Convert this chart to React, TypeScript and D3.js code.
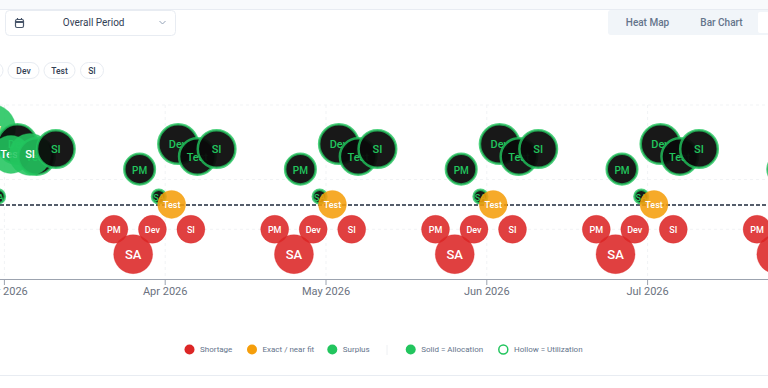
import React from "react";
import * as d3 from "d3";

const months = ["Mar 2026", "Apr 2026", "May 2026", "Jun 2026", "Jul 2026", "Aug 2026"];
const roles = ["PM", "SA", "Dev", "Test", "SI"];
const chips = ["Dev", "Test", "SI"];
const chipCentres = [23.5, 59.5, 92];
const chipWidths = [31, 31, 23];
const gridValues = [4, 1, -1];
// Gap per month, one entry per role (PM, SA, Dev, Test, SI)
const allocationGap = [
  [2.4, 3.3, 3.06, 2.01, 2.01],
  [-1, -2, -1, 0, -1],
  [-1, -2, -1, 0, -1],
  [-1, -2, -1, 0, -1],
  [-1, -2, -1, 0, -1],
  [-1, -2, -1, 0, -1],
];
const utilizationGap = [
  [1.42, 0.32, 2.43, 1.93, 2.23],
  [1.42, 0.32, 2.43, 1.93, 2.23],
  [1.42, 0.32, 2.43, 1.93, 2.23],
  [1.42, 0.32, 2.43, 1.93, 2.23],
  [1.42, 0.32, 2.43, 1.93, 2.23],
  [1.42, 0.32, 2.43, 1.93, 2.23],
];
const allocationSize = [
  [4, 5.5, 6.06, 3.8, 4.64],
  [2.06, 4, 2.06, 2.06, 2.06],
  [2.06, 4, 2.06, 2.06, 2.06],
  [2.06, 4, 2.06, 2.06, 2.06],
  [2.06, 4, 2.06, 2.06, 2.06],
  [2.06, 4, 2.06, 2.06, 2.06],
];
const utilizationSize = [
  [2.46, 0.49, 4.12, 3.52, 3.72],
  [2.46, 0.49, 4.12, 3.52, 3.72],
  [2.46, 0.49, 4.12, 3.52, 3.72],
  [2.46, 0.49, 4.12, 3.52, 3.72],
  [2.46, 0.49, 4.12, 3.52, 3.72],
  [2.46, 0.49, 4.12, 3.52, 3.72],
];
const legendLeft = [
  { label: "Shortage", color: "#dc2626", x: 189.5 },
  { label: "Exact / near fit", color: "#f59e0b", x: 252 },
  { label: "Surplus", color: "#22c55e", x: 332.3 },
];

const FONT = "Roboto, sans-serif";
const x = d3.scalePoint<string>().domain(months).range([4.4, 808.4]);
const y = d3.scaleLinear().domain([-3, 4]).range([279, 105]);
const rr = d3.scaleSqrt().domain([0, 4]).range([0, 19.5]);
const offset = d3.scalePoint<string>().domain(roles).range([-51.3, 25.7]);
const HOLLOW_SHIFT = 25.7;

const fillFor = (g: number) => (g < 0 ? "#dc2626" : g === 0 ? "#f59e0b" : "#22c55e");

export default function App() {
  return (
    <svg width={768} height={388} viewBox="0 0 768 388" style={{ position: "fixed", left: 0, top: 0, background: "#fff", fontFamily: FONT }}>
      <rect x={0} y={0} width={768} height={9} fill="#f8fafc" />
      <line x1={0} x2={768} y1={9.5} y2={9.5} stroke="#e8ecf2" />
      <rect x={5.5} y={10.5} width={170} height={25} rx={4} fill="#fff" stroke="#e8ecf2" />
      <g stroke="#475569" fill="none" strokeWidth={1.2}>
        <rect x={15.5} y={19.5} width={8} height={8} rx={1.5} />
        <line x1={15.5} x2={23.5} y1={22} y2={22} strokeWidth={2} />
        <line x1={17.5} x2={17.5} y1={18} y2={20} />
        <line x1={21.5} x2={21.5} y1={18} y2={20} />
      </g>
      <text x={93.7} y={26} textAnchor="middle" fontSize={10} fill="#334155">Overall Period</text>
      <path d="M159.5 21 l3 3 l3 -3" fill="none" stroke="#94a3b8" />
      <rect x={608} y={10} width={170} height={25} rx={3} fill="#f1f5f9" />
      <text x={647.5} y={26} textAnchor="middle" fontSize={10} fontWeight={500} fill="#64748b">Heat Map</text>
      <text x={721.5} y={26} textAnchor="middle" fontSize={10} fontWeight={500} fill="#64748b">Bar Chart</text>
      <rect x={758} y={12} width={20} height={21} rx={2} fill="#fff" />

      <rect x={-25} y={62.5} width={28} height={16} rx={8} fill="#fff" stroke="#e8ecf2" />
      {chips.map((c, i) => (
        <g key={c}>
          <rect x={chipCentres[i] - chipWidths[i] / 2} y={62.5} width={chipWidths[i]} height={16} rx={8} fill="#fff" stroke="#e8ecf2" />
          <text x={chipCentres[i]} y={73.5} textAnchor="middle" fontSize={8.5} fontWeight={500} fill="#334155">{c}</text>
        </g>
      ))}

      {gridValues.map((v) => (
        <line key={v} x1={0} x2={768} y1={y(v)} y2={y(v)} stroke="#f1f3f5" strokeDasharray="3 3" />
      ))}
      {months.map((m) => (
        <line key={m} x1={x(m)!} x2={x(m)!} y1={105} y2={279} stroke="#f1f3f5" strokeDasharray="3 3" />
      ))}
      <line x1={0} x2={768} y1={205} y2={205} stroke="#1e293b" strokeWidth={1.5} strokeDasharray="4 2" />
      <line x1={0} x2={768} y1={279.5} y2={279.5} stroke="#9ca3af" />
      {months.map((m) => (
        <g key={m}>
          <line x1={x(m)!} x2={x(m)!} y1={279} y2={285} stroke="#9ca3af" />
          <text x={x(m)!} y={295} textAnchor="middle" fontSize={11} fill="#6b7280">{m}</text>
        </g>
      ))}

      {months.map((m, mi) => roles.map((r, ri) => {
        const g = allocationGap[mi][ri];
        const ax = x(m)! + offset(r)!;
        const ay = y(g);
        const ux = ax + HOLLOW_SHIFT;
        const uy = y(utilizationGap[mi][ri]);
        return (
          <g key={m + r}>
            <circle cx={ax} cy={ay} r={rr(allocationSize[mi][ri])} fill={fillFor(g)} fillOpacity={0.88} stroke={fillFor(g)} strokeOpacity={0.3} />
            <text x={ax} y={ay + (r === "SA" ? 5 : 3.8)} textAnchor="middle" fontSize={r === "SA" ? 13 : g > 0 ? 11 : 9} fontWeight={500} fill="#fff">{r}</text>
            <circle cx={ux} cy={uy} r={rr(utilizationSize[mi][ri])} fill="#0a0a0a" fillOpacity={0.94} stroke="#22c55e" strokeOpacity={0.8} strokeWidth={2.5} />
            <text x={ux} y={uy + 4.4} textAnchor="middle" fontSize={r === "PM" ? 10 : r === "SA" ? 9 : 11} fontWeight={500} fill="#22c55e">{r}</text>
          </g>
        );
      }))}

      {legendLeft.map((l) => (
        <g key={l.label}>
          <circle cx={l.x} cy={349.5} r={5} fill={l.color} />
          <text x={l.x + 10.5} y={352.3} fontSize={8} fill="#64748b">{l.label}</text>
        </g>
      ))}
      <line x1={387} x2={387} y1={345} y2={355} stroke="#eef0f3" />
      <circle cx={410.7} cy={349.5} r={5} fill="#22c55e" />
      <text x={421.3} y={352.3} fontSize={8} fill="#64748b">Solid = Allocation</text>
      <circle cx={503.3} cy={349.5} r={4.5} fill="#fff" stroke="#22c55e" strokeWidth={1.5} />
      <text x={514} y={352.3} fontSize={8} fill="#64748b">Hollow = Utilization</text>
      <line x1={0} x2={768} y1={375.5} y2={375.5} stroke="#e8ecf2" />
    </svg>
  );
}
